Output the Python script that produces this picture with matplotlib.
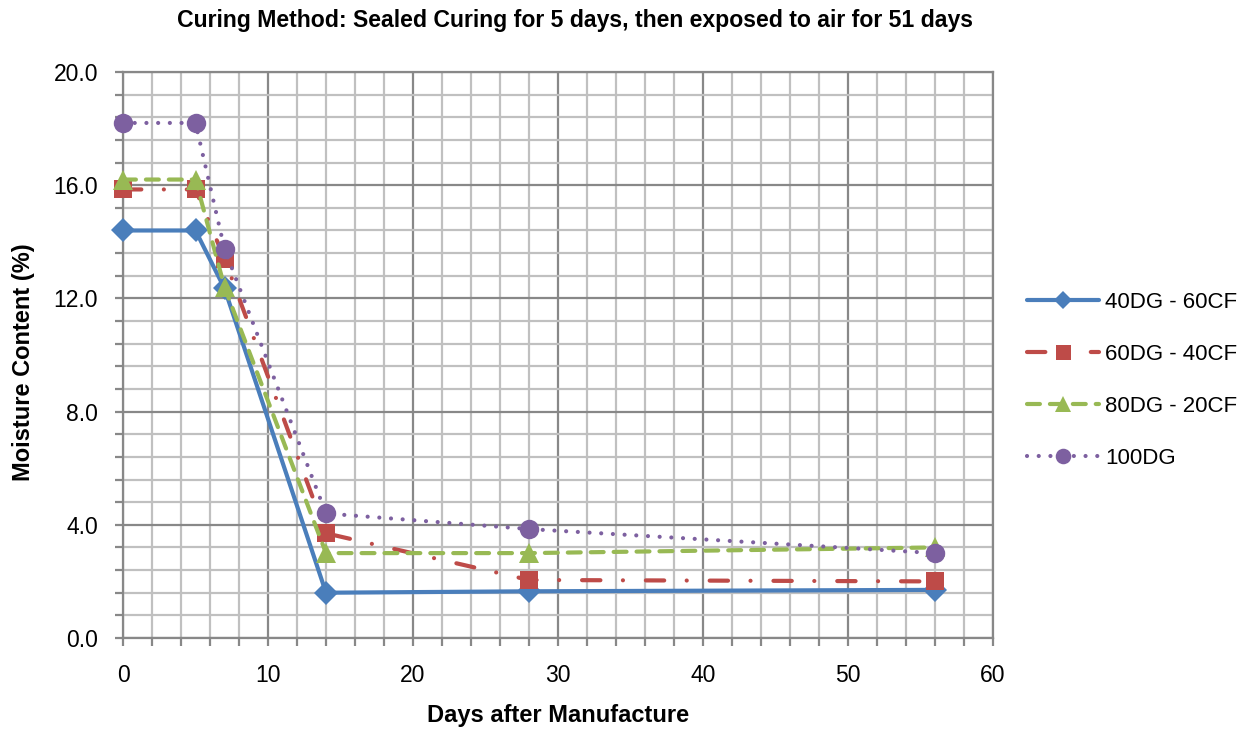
import matplotlib
matplotlib.use("Agg")
import matplotlib.pyplot as plt
from matplotlib.ticker import MultipleLocator, FormatStrFormatter

days = [0, 5, 7, 14, 28, 56]
dg40_cf60 = [14.4, 14.4, 12.35, 1.6, 1.65, 1.7]
dg60_cf40 = [15.85, 15.85, 13.4, 3.7, 2.05, 2.0]
dg80_cf20 = [16.2, 16.2, 12.4, 3.0, 3.0, 3.2]
dg100 = [18.2, 18.2, 13.75, 4.4, 3.85, 3.0]
series_names = ["40DG - 60CF", "60DG - 40CF", "80DG - 20CF", "100DG"]

title = "Curing Method: Sealed Curing for 5 days, then exposed to air for 51 days"
xlabel = "Days after Manufacture"
ylabel = "Moisture Content (%)"

plt.rcParams['font.family'] = ['Liberation Sans', 'DejaVu Sans']

W, H = 1256, 729
fig = plt.figure(figsize=(W / 100, H / 100), dpi=100)
ax = fig.add_axes([123 / W, 1 - 638 / H, (993 - 123) / W, (638 - 72) / H])

lw = 3.0
styles = [
    dict(color="#4A7EBB", marker="D", ms=12, ls="-"),
    dict(color="#BE4B48", marker="s", ms=13.5, dashes=(4.4, 5.4, 0.01, 5.5)),
    dict(color="#98B954", marker="^", ms=14.5, dashes=(3.1, 2.4)),
    dict(color="#7D60A0", marker="o", ms=14, dashes=(0.01, 2.8)),
]
data = [dg40_cf60, dg60_cf40, dg80_cf20, dg100]

handles = []
for name, ys, st in zip(series_names, data, styles):
    kw = dict(color=st["color"], lw=lw, marker=st["marker"], ms=st["ms"],
              markeredgewidth=0, solid_capstyle="round", dash_capstyle="round",
              label=name, zorder=3)
    if "dashes" in st:
        kw["dashes"] = st["dashes"]
    else:
        kw["ls"] = "-"
    (ln,) = ax.plot(days, ys, **kw)
    ln.set_clip_on(False)
    handles.append(ln)

ax.set_xlim(0, 60)
ax.set_ylim(0, 20)
ax.xaxis.set_major_locator(MultipleLocator(10))
ax.xaxis.set_minor_locator(MultipleLocator(2))
ax.yaxis.set_major_locator(MultipleLocator(4))
ax.yaxis.set_minor_locator(MultipleLocator(0.8))
ax.yaxis.set_major_formatter(FormatStrFormatter("%.1f"))

ax.grid(which="minor", color="#C0C0C0", lw=1.6, zorder=0)
ax.grid(which="major", color="#888888", lw=1.6, zorder=1)
ax.set_axisbelow(True)
for sp in ax.spines.values():
    sp.set_color("#888888")
    sp.set_linewidth(1.6)

ax.tick_params(which="both", direction="out", color="#888888", width=1.6, length=6,
               labelsize=16.5)
ax.tick_params(axis="y", pad=12)
ax.tick_params(axis="x", pad=13)

ax.set_xlabel(xlabel, fontsize=17, fontweight="bold", labelpad=12)
ax.set_ylabel(ylabel, fontsize=17, fontweight="bold", labelpad=13)
ax.yaxis.label.set_y(0.488)
fig.text(575 / W, 1 - 20 / H, title, ha="center", va="center", fontsize=16.6, fontweight="bold")

leg = fig.legend(handles=handles, loc="center left", bbox_to_anchor=(1027 / W, 1 - 380.5 / H),
                 frameon=False, fontsize=16, numpoints=1, handlelength=3.24,
                 labelspacing=1.39, handletextpad=0.27, borderpad=0, borderaxespad=0,
                 markerscale=0.8)

fig.savefig("out.png", dpi=100)
